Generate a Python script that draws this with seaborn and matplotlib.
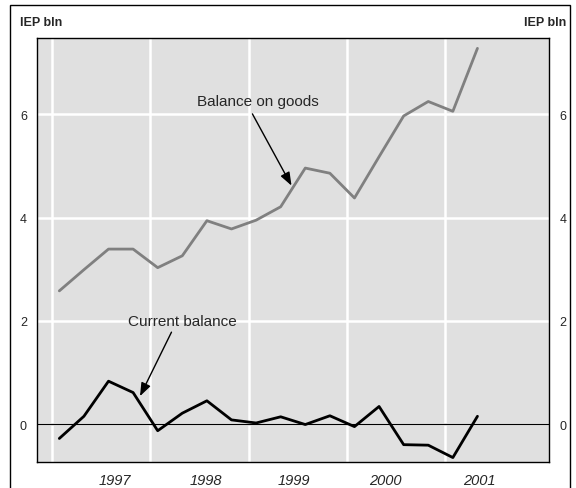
import numpy as np
import pandas as pd
import matplotlib
matplotlib.use("Agg")
import matplotlib.pyplot as plt
from matplotlib.patches import Rectangle
import seaborn as sns

#quarterly values, IEP bln
quarter = np.arange(18)
balance_on_goods = [2.58, 2.99, 3.39, 3.39, 3.03, 3.26, 3.94, 3.78, 3.95, 4.21,
                    4.96, 4.86, 4.38, 5.18, 5.97, 6.25, 6.06, 7.28]
current_balance = [-0.28, 0.15, 0.83, 0.61, -0.13, 0.21, 0.45, 0.08, 0.02, 0.14,
                   -0.01, 0.16, -0.05, 0.34, -0.40, -0.41, -0.65, 0.15]
year_labels = ["1997", "1998", "1999", "2000", "2001"]
y_ticks = [0, 2, 4, 6]

#layout (in quarter units)
year_label_pos = [2.24, 5.96, 9.54, 13.26, 17.06]
year_bounds = [-0.30, 3.70, 7.70, 11.70, 15.70]

df = pd.DataFrame({"quarter": quarter,
                   "goods": balance_on_goods,
                   "current": current_balance})

sns.set_style("white")
plt.rcParams["font.family"] = ["Liberation Sans", "DejaVu Sans"]

fig = plt.figure(figsize=(5.76, 4.89), dpi=100)
ax = fig.add_axes([0.0648, 0.0538, 0.8888, 0.8664])
ax.set_facecolor("#e0e0e0")

sns.lineplot(data=df, x="quarter", y="goods", color="#808080", linewidth=2.0, ax=ax)
sns.lineplot(data=df, x="quarter", y="current", color="black", linewidth=2.0, ax=ax)
ax.axhline(0, color="black", linewidth=0.9, zorder=1.5)

ax.set_xlim(-0.894, 19.92)
ax.set_ylim(-0.73, 7.48)
ax.set_xlabel("")
ax.set_ylabel("")

#white grid at year boundaries and y ticks
ax.set_axisbelow(True)
ax.set_xticks(year_bounds, minor=True)
ax.set_xticks(year_label_pos)
ax.set_xticklabels(year_labels, fontstyle="italic", fontsize=10.5)
ax.set_yticks(y_ticks)
ax.set_yticklabels([str(t) for t in y_ticks], fontsize=9)
ax.grid(True, which="minor", axis="x", color="white", linewidth=1.8)
ax.grid(True, which="major", axis="y", color="white", linewidth=1.8)
ax.grid(False, which="major", axis="x")
ax.tick_params(axis="x", which="both", length=0, pad=8)
ax.tick_params(axis="y", which="both", length=0, pad=7.5, labelright=True)

for s in ax.spines.values():
    s.set_color("black")
    s.set_linewidth(1.0)

#annotations
ax.text(5.60, 6.25, "Balance on goods", fontsize=11, va="center", ha="left")
ax.annotate("", xy=(9.44, 4.62), xytext=(7.85, 6.01),
            arrowprops=dict(arrowstyle="-|>,head_length=0.8,head_width=0.3",
                            color="black", lw=1.0, shrinkA=0, shrinkB=0))
ax.text(2.79, 2.0, "Current balance", fontsize=11, va="center", ha="left")
ax.annotate("", xy=(3.28, 0.54), xytext=(4.56, 1.78),
            arrowprops=dict(arrowstyle="-|>,head_length=0.8,head_width=0.3",
                            color="black", lw=1.0, shrinkA=0, shrinkB=0))

#unit labels and outer frame
fig.text(20 / 576, 1 - 23 / 489, "IEP bln", fontsize=9, fontweight="bold",
         ha="left", va="center")
fig.text(566 / 576, 1 - 23 / 489, "IEP bln", fontsize=9, fontweight="bold",
         ha="right", va="center")
fig.patches.append(Rectangle((10 / 576, -0.05), 560 / 576, 1.05 - 5.7 / 489,
                             transform=fig.transFigure, fill=False,
                             edgecolor="black", linewidth=1.0))

fig.savefig("out.png", dpi=100)
plt.close(fig)
